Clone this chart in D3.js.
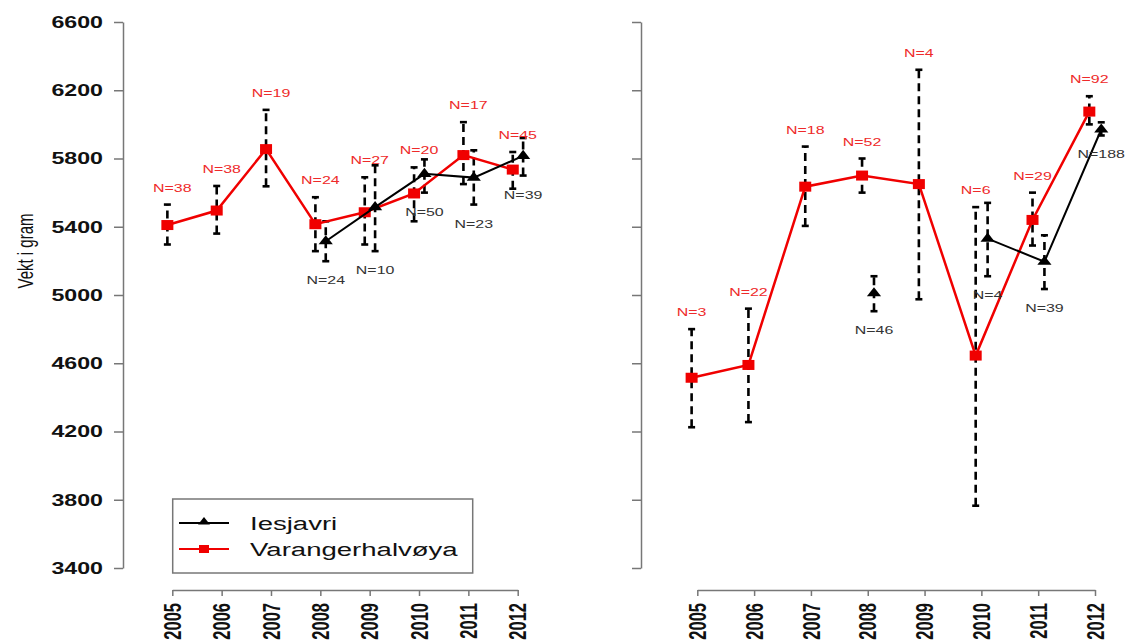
<!DOCTYPE html>
<html>
<head>
<meta charset="utf-8">
<script src="https://cdn.jsdelivr.net/npm/d3@7"></script>
<style>
  body { margin: 0; background: #fff; }
  svg { display: block; font-family: 'Liberation Sans', Arial, sans-serif; }
</style>
</head>
<body>
<div id="chart"></div>
<script>
// Data
const years = [2005, 2006, 2007, 2008, 2009, 2010, 2011, 2012];
const yTicks = [3400, 3800, 4200, 4600, 5000, 5400, 5800, 6200, 6600];
const seriesNames = ['Iesjavri', 'Varangerhalvøya'];

// left panel, Varangerhalvøya (red)
const leftRedMean = [5410, 5495, 5855, 5415, 5485, 5595, 5820, 5735];
const leftRedLow  = [5296, 5360, 5637, 5257, 5296, 5432, 5650, 5623];
const leftRedHigh = [5530, 5639, 6085, 5573, 5690, 5748, 6013, 5838];
const leftRedN    = [38, 38, 19, 24, 27, 20, 17, 45];

// left panel, Iesjavri (black)
const leftBlackMean = [null, null, null, 5315, 5515, 5710, 5688, 5815];
const leftBlackLow  = [null, null, null, 5198, 5257, 5600, 5530, 5700];
const leftBlackHigh = [null, null, null, 5432, 5760, 5795, 5848, 5920];
const leftBlackN    = [null, null, null, 24, 10, 50, 23, 39];

// right panel, Varangerhalvøya (red)
const rightRedMean = [4515, 4590, 5635, 5700, 5650, 4645, 5440, 6075];
const rightRedLow  = [4225, 4255, 5405, 5600, 4975, 3765, 5290, 6000];
const rightRedHigh = [4800, 4920, 5870, 5800, 6320, 5515, 5600, 6165];
const rightRedN    = [3, 22, 18, 52, 4, 6, 29, 92];

// right panel, Iesjavri (black)
const rightBlackMean = [null, null, null, 5010, null, 5330, 5195, 5970];
const rightBlackLow  = [null, null, null, 4905, null, 5110, 5035, 5935];
const rightBlackHigh = [null, null, null, 5110, null, 5540, 5350, 6012];
const rightBlackN    = [null, null, null, 46, null, 4, 39, 188];

// Config
const width = 1125;
const height = 644;
const SX = 1.45;          // the picture is stretched sideways, text follows it
const red = '#f00000';
const redText = '#ee2a2a';
const axisColor = '#777';

const y = d3.scaleLinear().domain([3400, 6600]).range([568, 22]);

function buildRows(mean, low, high, n) {
  return years.map((yr, i) => ({year: yr, mean: mean[i], low: low[i], high: high[i], n: n[i]}));
}

const panels = [
  {
    x: d3.scaleLinear().domain([2005, 2012]).range([172.3, 517.7]),
    axisX: 123,
    showLabels: true,
    redLabelShift: 0,
    red: buildRows(leftRedMean, leftRedLow, leftRedHigh, leftRedN),
    black: buildRows(leftBlackMean, leftBlackLow, leftBlackHigh, leftBlackN)
  },
  {
    x: d3.scaleLinear().domain([2005, 2012]).range([697.3, 1095]),
    axisX: 641,
    showLabels: false,
    redLabelShift: -0.1,
    red: buildRows(rightRedMean, rightRedLow, rightRedHigh, rightRedN),
    black: buildRows(rightBlackMean, rightBlackLow, rightBlackHigh, rightBlackN)
  }
];

const redJitter = -0.1;
const blackJitter = 0.11;

const svg = d3.select('#chart').append('svg')
  .attr('width', width)
  .attr('height', height);

svg.append('rect')
  .attr('width', width)
  .attr('height', height)
  .attr('fill', '#fff');

// stretched text helper
function stretchText(parent, x, yPos, str, size, weight, fill, anchor, rotate) {
  return parent.append('text')
    .attr('transform', `translate(${x},${yPos}) scale(${SX},1)` + (rotate ? ` rotate(${rotate})` : ''))
    .attr('font-size', size)
    .attr('font-weight', weight)
    .attr('fill', fill)
    .attr('text-anchor', anchor)
    .text(str);
}

const triangle = d3.symbol(d3.symbolTriangle);
const has = d => d.mean !== null;

panels.forEach(p => {
  const g = svg.append('g');

  // Y-Axis
  const yAxis = g.append('g')
    .attr('transform', `translate(${p.axisX},0)`)
    .call(d3.axisLeft(y).tickValues(yTicks).tickSize(9).tickSizeOuter(0).tickFormat(''));
  yAxis.select('.domain').attr('stroke', axisColor).attr('stroke-width', 1.5);
  yAxis.selectAll('.tick line').attr('stroke', axisColor).attr('stroke-width', 1.5);
  yAxis.selectAll('.tick text').remove();
  if (p.showLabels) {
    yTicks.forEach(t => {
      stretchText(g, p.axisX - 20, y(t), t, 16, 'bold', '#111', 'end')
        .attr('dy', '0.36em');
    });
  }

  // X-Axis
  const xAxis = g.append('g')
    .attr('transform', 'translate(0,590)')
    .call(d3.axisBottom(p.x).tickValues(years).tickSize(6).tickSizeOuter(0).tickFormat(''));
  xAxis.select('.domain').attr('stroke', axisColor).attr('stroke-width', 1.5);
  xAxis.selectAll('.tick line').attr('stroke', axisColor).attr('stroke-width', 1.5);
  xAxis.selectAll('.tick text').remove();
  years.forEach(yr => {
    stretchText(g, p.x(yr), 603, yr, 16.5, 'bold', '#111', 'end', -90)
      .attr('dy', '0.36em');
  });

  // Error bars
  const bars = [
    {rows: p.red.filter(has), jit: redJitter},
    {rows: p.black.filter(has), jit: blackJitter}
  ];
  bars.forEach(s => {
    const eb = g.append('g')
      .selectAll('g')
      .data(s.rows)
      .join('g')
      .attr('stroke', '#000')
      .attr('stroke-width', 2.6);
    eb.append('line')
      .attr('x1', d => p.x(d.year + s.jit))
      .attr('x2', d => p.x(d.year + s.jit))
      .attr('y1', d => y(d.low))
      .attr('y2', d => y(d.high))
      .attr('stroke-dasharray', '8,5');
    eb.append('line')
      .attr('x1', d => p.x(d.year + s.jit) - 3.5)
      .attr('x2', d => p.x(d.year + s.jit) + 3.5)
      .attr('y1', d => y(d.high))
      .attr('y2', d => y(d.high));
    eb.append('line')
      .attr('x1', d => p.x(d.year + s.jit) - 3.5)
      .attr('x2', d => p.x(d.year + s.jit) + 3.5)
      .attr('y1', d => y(d.low))
      .attr('y2', d => y(d.low));
  });

  // Varangerhalvøya line + squares
  const redLine = d3.line()
    .defined(has)
    .x(d => p.x(d.year + redJitter))
    .y(d => y(d.mean));
  g.append('path')
    .datum(p.red)
    .attr('fill', 'none')
    .attr('stroke', red)
    .attr('stroke-width', 2.5)
    .attr('d', redLine);
  g.append('g')
    .selectAll('rect')
    .data(p.red.filter(has))
    .join('rect')
    .attr('x', d => p.x(d.year + redJitter) - 6)
    .attr('y', d => y(d.mean) - 5)
    .attr('width', 12)
    .attr('height', 10)
    .attr('fill', red);

  // Iesjavri line + triangles
  const blackLine = d3.line()
    .defined(has)
    .x(d => p.x(d.year + blackJitter))
    .y(d => y(d.mean));
  g.append('path')
    .datum(p.black)
    .attr('fill', 'none')
    .attr('stroke', '#000')
    .attr('stroke-width', 2)
    .attr('d', blackLine);
  g.append('g')
    .selectAll('path')
    .data(p.black.filter(has))
    .join('path')
    .attr('transform', d => `translate(${p.x(d.year + blackJitter)},${y(d.mean)}) scale(1.35,1)`)
    .attr('d', triangle.size(48)())
    .attr('fill', '#000');

  // N labels
  p.red.filter(has).forEach(d => {
    stretchText(g, p.x(d.year + p.redLabelShift), y(d.high) - 13, 'N=' + d.n, 11, 'normal', redText, 'middle');
  });
  p.black.filter(has).forEach(d => {
    stretchText(g, p.x(d.year + blackJitter), y(d.low) + 23, 'N=' + d.n, 11, 'normal', '#333', 'middle');
  });
});

// Y Axis Label
stretchText(svg, 25, 251, 'Vekt i gram', 15, 'normal', '#111', 'middle', -90)
  .attr('dy', '0.36em');

// Legend
const legend = svg.append('g');
legend.append('rect')
  .attr('x', 172.7)
  .attr('y', 499)
  .attr('width', 300)
  .attr('height', 74)
  .attr('fill', '#fff')
  .attr('stroke', axisColor)
  .attr('stroke-width', 1.5);

const legendRows = [
  {name: seriesNames[0], color: '#000', shape: 'triangle', y: 523},
  {name: seriesNames[1], color: red, shape: 'square', y: 549}
];
legendRows.forEach(r => {
  legend.append('line')
    .attr('x1', 179).attr('x2', 229)
    .attr('y1', r.y).attr('y2', r.y)
    .attr('stroke', r.color)
    .attr('stroke-width', 2.2);
  if (r.shape === 'triangle') {
    legend.append('path')
      .attr('transform', `translate(204,${r.y - 1}) scale(1.35,1)`)
      .attr('d', triangle.size(34)())
      .attr('fill', r.color);
  } else {
    legend.append('rect')
      .attr('x', 199).attr('y', r.y - 4)
      .attr('width', 10).attr('height', 8)
      .attr('fill', r.color);
  }
  stretchText(legend, 250, r.y + 7, r.name, 19, 'normal', '#111', 'start');
});
</script>
</body>
</html>
